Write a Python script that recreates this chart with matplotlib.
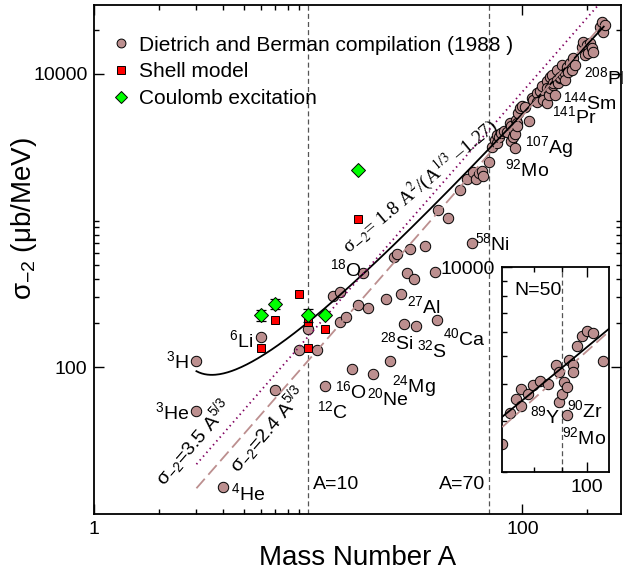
import numpy as np
import matplotlib
matplotlib.use("Agg")
import matplotlib.pyplot as plt
from matplotlib.ticker import FixedLocator, FixedFormatter, NullFormatter

plt.rcParams["font.family"] = ["Liberation Sans", "DejaVu Sans"]
plt.rcParams["mathtext.fontset"] = "custom"
plt.rcParams["mathtext.rm"] = "Liberation Sans"
plt.rcParams["mathtext.it"] = "Liberation Sans:italic"
plt.rcParams["mathtext.bf"] = "Liberation Sans:bold"

ROSY = "#bc8f8f"
PURPLE = "#800060"

# ── Dietrich & Berman compilation: mass number, sigma_-2 (ub/MeV) ────────────
db_A = [3, 3, 4, 6, 7, 9, 10, 11, 12, 13, 14, 14, 15, 16, 17, 18, 19, 20,
        23, 24, 25, 26, 27, 28, 29, 30, 31, 32, 35, 39, 40, 40.5, 45, 51,
        55, 58, 59, 61, 63, 64.6, 65.5,
        70.0, 72.3, 74.1, 75.9, 75.9, 78.1, 79.8, 82.1, 85.0, 87.8, 88.9,
        88.9, 90.2, 91.0, 92.1, 92.1, 92.9, 94.2, 94.2, 95.9, 97.9, 100,
        102.8, 107,
        110.7, 112.5, 116.8, 116.8, 121, 123.3, 125.5, 130, 130, 130, 133,
        134.7, 134.7, 137, 139.6, 139.6, 142.2, 144.8, 144.8, 147.3, 150,
        150, 152.8, 155.5, 158, 158.3, 161.2, 164, 167, 170.2, 173, 176.3,
        189.5, 192.8, 196.3, 200, 203.4, 207, 211, 214.7, 230.7, 235, 239,
        243.4]
db_S = [110, 50, 15.2, 160, 70, 132, 182, 132, 74, 307, 324, 202, 219, 98,
        266, 437, 252, 90, 291, 111, 564, 589, 315, 197, 437, 637, 398, 190,
        670, 447, 210, 1178, 1045, 1603, 1906, 700, 2133, 1932, 2113, 2167,
        2004,
        2496, 3177, 3560, 3377, 3851, 3702, 3976, 4081, 4013, 4627, 4390,
        3465, 3702, 4059, 3900, 3145, 4814, 4627, 4390, 5390, 5832, 6050,
        5970, 4775,
        6838, 6650, 7396, 6450, 7630, 8198, 6650, 8866, 7995, 6324, 7197,
        7995, 9580, 9840, 8420, 8645, 7197, 10640, 9105, 8645, 9350, 9580,
        11510, 9840, 10100, 9105, 11210, 10370, 11820, 10650, 12790, 11510,
        15330, 16580, 13470, 15740, 13830, 16180, 14950, 14180, 20940, 22650,
        19390, 21530]

# ── shell model ──────────────────────────────────────────────────────────────
sm_A = [6, 7, 9, 10, 10, 12, 17]
sm_S = [135, 210, 318, 135, 204, 182, 1030]

# ── Coulomb excitation ───────────────────────────────────────────────────────
ce_A = [6, 7, 10, 12, 17]
ce_S = [227, 272, 227, 227, 2203]
ce_err = [20, 22, 24, 0, 0]

# ── systematics drawn in the figure ──────────────────────────────────────────
FIT_C, FIT_R0 = 1.8, 1.27      # sigma_-2 = 1.8 A^2 / (A^(1/3) - 1.27)
POW_HI, POW_LO = 3.5, 2.4      # sigma_-2 = c A^(5/3)

nuclide_labels = [
    ("$^{3}$H", 2.77, 98.6, "right"), ("$^{3}$He", 2.79, 44.5, "right"),
    ("$^{6}$Li", 5.53, 138, "right"), ("$^{4}$He", 4.35, 12.4, "left"),
    ("$^{12}$C", 10.95, 45.2, "left"), ("$^{16}$O", 13.3, 62.1, "left"),
    ("$^{20}$Ne", 18.7, 55.4, "left"), ("$^{24}$Mg", 24.5, 67.9, "left"),
    ("$^{28}$Si", 21.7, 132.6, "left"), ("$^{32}$S", 32.1, 117.9, "left"),
    ("$^{40}$Ca", 42.8, 141.6, "left"), ("$^{27}$Al", 28.8, 234.8, "left"),
    ("$^{18}$O", 12.6, 417.5, "left"), ("$^{58}$Ni", 60, 633.5, "left"),
    ("$^{92}$Mo", 83, 1998, "left"), ("$^{107}$Ag", 103, 2873, "left"),
    ("$^{141}$Pr", 137.5, 4596, "left"), ("$^{144}$Sm", 154.2, 5788, "left"),
    ("$^{208}$Pb", 194.5, 8575, "left"),
]
inset_labels = [
    ("N=50", 73.8, 8054, "left"), ("$^{89}$Y", 89.6, 2937, "right"),
    ("$^{90}$Zr", 91.9, 3089, "left"), ("$^{92}$Mo", 90.0, 2488, "left"),
]


def fit_curve(A):
    return FIT_C * A**2 / (A**(1 / 3) - FIT_R0)


def style_ticks(ax, xmaj, xlab, xmin, ymaj, ylab, ymin, right=True):
    ax.xaxis.set_major_locator(FixedLocator(xmaj))
    ax.xaxis.set_major_formatter(FixedFormatter(xlab))
    ax.xaxis.set_minor_locator(FixedLocator(xmin))
    ax.xaxis.set_minor_formatter(NullFormatter())
    ax.yaxis.set_major_locator(FixedLocator(ymaj))
    ax.yaxis.set_major_formatter(FixedFormatter(ylab))
    ax.yaxis.set_minor_locator(FixedLocator(ymin))
    ax.yaxis.set_minor_formatter(NullFormatter())
    ax.tick_params(which="both", direction="in", top=True, right=right,
                   labelsize=14, pad=5, width=1.0)
    ax.tick_params(which="major", length=7)
    ax.tick_params(which="minor", length=3.6)
    for sp in ax.spines.values():
        sp.set_linewidth(1.3)


fig = plt.figure(figsize=(6.23, 5.76), dpi=100)
ax = fig.add_axes([0.1514, 0.1076, 0.8454, 0.8837])
ax.set_xscale("log"); ax.set_yscale("log")
ax.set_xlim(1, 289); ax.set_ylim(10, 29440)

for a in (10, 70):
    ax.axvline(a, color="#555555", lw=0.9, ls=(0, (4, 2.5)), zorder=1)

ax.plot(db_A, db_S, "o", ms=7.5, mfc=ROSY, mec="k", mew=0.7, ls="none",
        zorder=2, label="Dietrich and Berman compilation (1988 )")

A_line = np.logspace(np.log10(3), np.log10(240), 300)
ax.plot(A_line, fit_curve(A_line), color="k", lw=1.3, zorder=3)
A_dot = np.logspace(np.log10(3), np.log10(260), 100)
ax.plot(A_dot, POW_HI * A_dot**(5 / 3), color=PURPLE, lw=1.3,
        ls=(0, (0.8, 2.0)), zorder=3)
ax.plot(A_line, POW_LO * A_line**(5 / 3), color=ROSY, lw=1.3,
        ls=(0, (7, 3)), zorder=3)

ax.plot(sm_A, sm_S, "s", ms=6.0, mfc="#ff0000", mec="k", mew=0.7,
        ls="none", zorder=4, label="Shell model")
ax.errorbar(ce_A, ce_S, yerr=ce_err, fmt="none", ecolor="k", elinewidth=0.9,
            capsize=3.6, capthick=0.9, zorder=5)
ax.plot(ce_A, ce_S, "D", ms=6.8, mfc="#00ff00", mec="k", mew=0.7,
        ls="none", zorder=6, label="Coulomb excitation")

leg = ax.legend(loc="upper left", bbox_to_anchor=(0.0355, 0.94),
                frameon=False, fontsize=15, handlelength=0.8,
                handletextpad=0.45, labelspacing=0.38, borderpad=0,
                borderaxespad=0, markerscale=0.85)

for txt, a, s, ha in nuclide_labels:
    ax.text(a, s, txt, fontsize=14, ha=ha, va="baseline", zorder=7)

ax.text(10.5, 14.7, "A=10", fontsize=14, ha="left", va="baseline")
ax.text(66.9, 14.7, "A=70", fontsize=14, ha="right", va="baseline")

ax.text(33.3, 1706, "σ$_{-2}$= 1.8 A$^{2}$/(A$^{1/3}$ –1.27)", fontsize=14,
        family="Liberation Serif", math_fontfamily="stix", rotation=40,
        rotation_mode="anchor", ha="center", va="center")
ax.text(2.92, 30.6, "σ$_{-2}$=3.5 A$^{5/3}$", fontsize=14, rotation=49,
        rotation_mode="anchor", ha="center", va="center")
ax.text(6.48, 38.1, "σ$_{-2}$=2.4 A$^{5/3}$", fontsize=14, rotation=49,
        rotation_mode="anchor", ha="center", va="center")

style_ticks(ax, [1, 100], ["1", "100"], [2, 3, 4, 5, 6, 7, 8, 9, 200],
            [100, 10000], ["100", "10000"],
            [200, 300, 400, 500, 600, 700, 800, 900, 1000, 20000])
ax.set_xlabel("Mass Number A", fontsize=20, labelpad=5)
ax.set_ylabel("σ$_{-2}$ (μb/MeV)", fontsize=20)
ax.yaxis.set_label_coords(-0.105, 0.58)

# ── inset: N = 50 region ─────────────────────────────────────────────────────
in_A = [a for a in db_A if 69 <= a <= 108]
in_S = [s for a, s in zip(db_A, db_S) if 69 <= a <= 108]

axin = fig.add_axes([502.3 / 623, 103.7 / 576, 107 / 623, 205 / 576])
axin.set_xscale("log"); axin.set_yscale("log")
axin.set_xlim(70, 110); axin.set_ylim(2000, 10000)
axin.axvline(90, color="#555555", lw=0.9, ls=(0, (4, 2.5)), zorder=1)
axin.plot(in_A, in_S, "o", ms=7.5, mfc=ROSY, mec="k", mew=0.7, ls="none",
          zorder=2)
A_in = np.logspace(np.log10(70), np.log10(110), 50)
axin.plot(A_in, fit_curve(A_in), color="k", lw=1.3, zorder=3)
axin.plot(A_in, POW_LO * A_in**(5 / 3), color=ROSY, lw=1.3,
          ls=(0, (7, 3)), zorder=3)
for txt, a, s, ha in inset_labels:
    axin.text(a, s, txt, fontsize=14, ha=ha, va="baseline", zorder=7)
style_ticks(axin, [100], ["100"], [80, 90], [10000], ["10000"],
            [2000, 3000, 4000, 5000, 6000, 7000, 8000, 9000], right=False)

fig.savefig("out.png", dpi=100)
